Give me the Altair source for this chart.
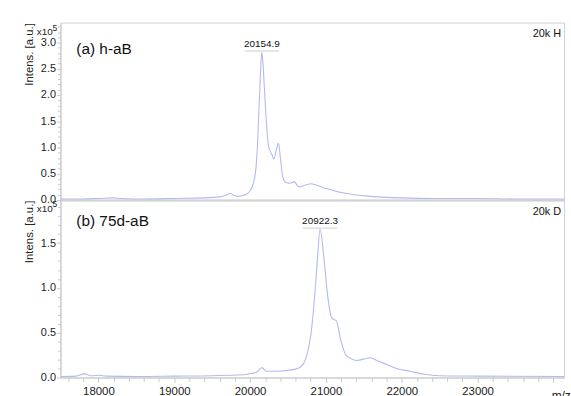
import altair as alt
import pandas as pd

# Mass spectra, intensity in units of 1e5 a.u.
mz_a = [17500, 17800, 18000, 18200, 18300, 18600, 19000, 19400, 19600, 19700,
        19740, 19780, 19840, 19920, 19980, 20040, 20080, 20100, 20120, 20140,
        20154.9, 20170, 20190, 20213, 20244, 20290, 20313, 20345, 20375, 20400,
        20431, 20470, 20520, 20584, 20620, 20649, 20720, 20800, 20880, 20975,
        21060, 21149, 21260, 21367, 21480, 21580, 21802, 22000, 22400, 23000,
        23500, 24140]
int_a = [0.02, 0.02, 0.03, 0.04, 0.03, 0.02, 0.03, 0.04, 0.06, 0.10,
         0.13, 0.09, 0.07, 0.09, 0.14, 0.30, 0.65, 1.10, 1.85, 2.50,
         2.82, 2.60, 2.10, 1.52, 1.02, 0.86, 0.78, 0.95, 1.08, 0.80,
         0.44, 0.34, 0.32, 0.35, 0.28, 0.25, 0.28, 0.31, 0.28, 0.23,
         0.20, 0.16, 0.13, 0.10, 0.085, 0.07, 0.05, 0.04, 0.03, 0.03,
         0.02, 0.02]

mz_b = [17500, 17700, 17820, 17900, 18015, 18100, 18500, 19000, 19500, 19900,
        19980, 20080, 20157, 20213, 20365, 20584, 20670, 20735, 20800, 20845,
        20888, 20922.3, 20975, 21018, 21070, 21100, 21140, 21192, 21257, 21330,
        21410, 21500, 21584, 21670, 21758, 21932, 22106, 22300, 22500, 23000,
        24140]
int_b = [0.01, 0.015, 0.04, 0.02, 0.025, 0.015, 0.01, 0.015, 0.02, 0.03,
         0.04, 0.055, 0.11, 0.07, 0.07, 0.09, 0.12, 0.21, 0.47, 0.84,
         1.32, 1.655, 1.32, 0.95, 0.68, 0.65, 0.63, 0.43, 0.26, 0.21,
         0.19, 0.205, 0.22, 0.19, 0.16, 0.10, 0.07, 0.035, 0.02, 0.015,
         0.01]

peak_a = {"mz": [20154.9], "inten": [2.82], "label": ["20154.9"]}
peak_b = {"mz": [20922.3], "inten": [1.655], "label": ["20922.3"]}

x_domain = [17500, 24140]
x_ticks = list(range(17600, 24001, 200))
y_ticks_a = [round(i * 0.1, 1) for i in range(0, 34)]
y_ticks_b = [round(i * 0.1, 1) for i in range(0, 20)]

FONT = "Liberation Sans, Arial, sans-serif"
LINE = "#b3b9f2"
AXIS = "#c8c8c8"
W, H = 508, 179


def y_axis(values):
    return alt.Axis(
        values=values,
        labelExpr="abs(round(datum.value * 10)) % 5 == 0 ? format(datum.value, '.1f') : ''",
        tickSize={"condition": {"test": "abs(round(datum.value * 10)) % 5 == 0", "value": 4}, "value": 3},
        labelOverlap=False,
        grid=False, domainColor=AXIS, tickColor=AXIS,
        labelFont=FONT, labelFontSize=11, labelColor="#222", labelPadding=1,
        title="Intens. [a.u.]", titleFont=FONT, titleFontSize=11.5, titleFontWeight="normal",
        titleColor="#222", titleAngle=-90, titleAlign="right", titleBaseline="middle",
        titleX=-31, titleY=0,
    )


def x_axis(show):
    if not show:
        return alt.Axis(labels=False, ticks=False, grid=False, domainColor=AXIS, domainWidth=2, title=None)
    return alt.Axis(
        values=x_ticks,
        labelExpr="datum.value % 1000 == 0 && datum.value < 24000 ? format(datum.value, 'd') : ''",
        tickSize={"condition": {"test": "datum.value % 1000 == 0", "value": 5}, "value": 4},
        labelOverlap=False,
        grid=False, domainColor=AXIS, tickColor=AXIS,
        labelFont=FONT, labelFontSize=11.5, labelColor="#222", labelPadding=3,
        title="m/z", titleFont=FONT, titleFontSize=12, titleFontWeight="normal",
        titleColor="#222", titleAlign="left", titleBaseline="middle", titleX=495, titleY=18,
    )


def panel(mz, inten, y_max, y_values, peak, name, tag, show_x):
    df = pd.DataFrame({"mz": mz, "inten": inten})
    xs = alt.Scale(domain=x_domain, nice=False, zero=False)
    ys = alt.Scale(domain=[0, y_max], nice=False)
    # every layer carries the same axis definition so the merged axis keeps it
    X = alt.X("mz:Q", scale=xs, axis=x_axis(show_x))
    Y = alt.Y("inten:Q", scale=ys, axis=y_axis(y_values))

    line = alt.Chart(df).mark_line(color=LINE, strokeWidth=1.1, interpolate="monotone", clip=True).encode(
        x=X, y=Y)

    pk = alt.Chart(pd.DataFrame(peak))
    underline = pk.mark_tick(orient="horizontal", size=35, thickness=2, color="#dcdcdc", yOffset=-1).encode(
        x=X, y=Y)
    plabel = pk.mark_text(baseline="bottom", dy=-3, font=FONT, fontSize=10, color="#111").encode(
        x=X, y=Y, text="label:N")

    ann = pd.DataFrame({"name": [name], "tag": [tag], "mult": ["x10"], "exp": ["5"]})
    base = alt.Chart(ann)
    name_t = base.mark_text(align="left", baseline="middle", font=FONT, fontSize=15.5, color="#111").encode(
        x=alt.value(16), y=alt.value(27 if show_x is False else 21), text="name:N")
    tag_t = base.mark_text(align="right", baseline="middle", font=FONT, fontSize=11, color="#111").encode(
        x=alt.value(505), y=alt.value(12), text="tag:N")
    mult_y = 10 if show_x is False else 9
    mult_t = base.mark_text(align="left", baseline="middle", font=FONT, fontSize=10, color="#222").encode(
        x=alt.value(-24), y=alt.value(mult_y), text="mult:N")
    exp_t = base.mark_text(align="left", baseline="middle", font=FONT, fontSize=8.5, color="#222").encode(
        x=alt.value(-8), y=alt.value(mult_y - 5), text="exp:N")

    return alt.layer(line, underline, plabel, name_t, tag_t, mult_t, exp_t).properties(width=W, height=H)


top = panel(mz_a, int_a, 3.38, y_ticks_a, peak_a, "(a) h-aB", "20k H", False)
bottom = panel(mz_b, int_b, 1.98, y_ticks_b, peak_b, "(b) 75d-aB", "20k D", True)

chart = alt.vconcat(top, bottom, spacing=0, bounds="flush").properties(
    padding={"left": 23, "top": 18, "right": 0, "bottom": 0},
    background="white",
).configure_view(stroke="#d0d0d0", strokeWidth=1)

chart.save("out.html", embed_options={"renderer": "svg", "actions": False})
